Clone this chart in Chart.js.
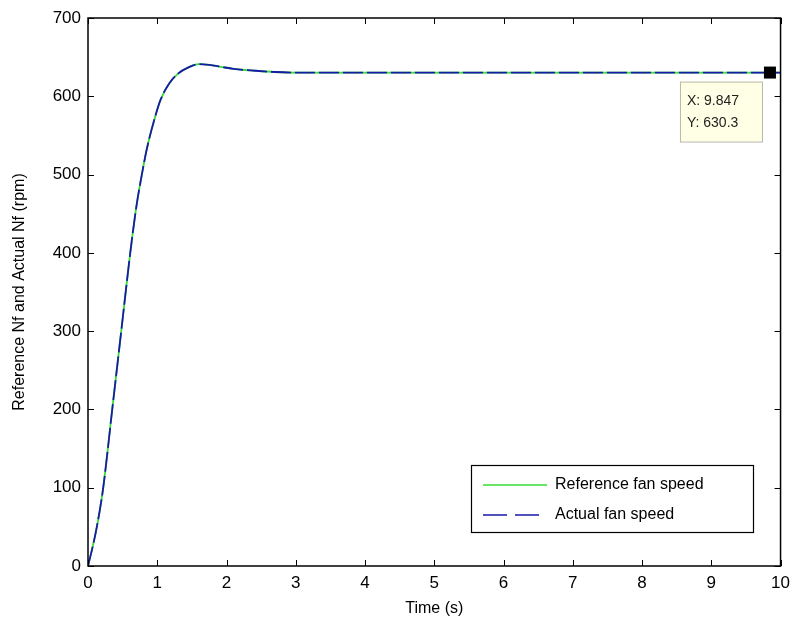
<!DOCTYPE html>
<html>
<head>
<meta charset="utf-8">
<script src="https://cdn.jsdelivr.net/npm/chart.js@4.4.0/dist/chart.umd.min.js"></script>
<style>
  html, body { margin: 0; padding: 0; background: #fff; }
  #wrap { width: 797px; height: 629px; }
</style>
</head>
<body>
<div id="wrap"><canvas id="mycanvas" width="797" height="629"></canvas></div>
<script>
// values
var timeS = [0, 0.05, 0.11, 0.17, 0.22, 0.35, 0.48, 0.61, 0.7, 0.79, 0.85, 0.97, 1.05, 1.17, 1.3, 1.45, 1.6, 1.75, 1.9, 2.1, 2.42, 2.7, 3, 3.5, 4, 5, 6, 7, 8, 9, 9.847, 10];
var refSpeed = [0, 18, 42, 71, 100, 200, 300, 400, 460, 506, 533, 574, 596, 616, 629, 637, 641, 640, 638, 635, 632.6, 631, 630.3, 630.3, 630.3, 630.3, 630.3, 630.3, 630.3, 630.3, 630.3, 630.3];
var actSpeed = [0, 18, 42, 71, 100, 200, 300, 400, 460, 506, 533, 574, 596, 616, 629, 637, 641, 640, 638, 635, 632.6, 631, 630.3, 630.3, 630.3, 630.3, 630.3, 630.3, 630.3, 630.3, 630.3, 630.3];
var xTicks = [0, 1, 2, 3, 4, 5, 6, 7, 8, 9, 10];
var yTicks = [0, 100, 200, 300, 400, 500, 600, 700];
var seriesNames = ["Reference fan speed", "Actual fan speed"];
var tipX = 9.847;
var tipY = 630.3;

var FONT = "'Liberation Sans', Arial, sans-serif";

function toPoints(xs, ys) {
    var pts = [];
    for (var i = 0; i < xs.length; i++) pts.push({x: xs[i], y: ys[i]});
    return pts;
}

// box, inward ticks, legend and data tip in MATLAB style
var matlabBits = {
    id: 'matlabBits',
    afterDraw: function(chart) {
        var ctx = chart.ctx;
        var a = chart.chartArea;
        var xs = chart.scales.x, ys = chart.scales.y;
        ctx.save();
        ctx.strokeStyle = '#000';
        ctx.lineWidth = 1;
        ctx.beginPath();
        xTicks.forEach(function(t) {
            var px = Math.round(xs.getPixelForValue(t)) + 0.5;
            ctx.moveTo(px, a.bottom); ctx.lineTo(px, a.bottom - 6);
            ctx.moveTo(px, a.top); ctx.lineTo(px, a.top + 6);
        });
        yTicks.forEach(function(t) {
            var py = Math.round(ys.getPixelForValue(t)) + 0.5;
            ctx.moveTo(a.left, py); ctx.lineTo(a.left + 6, py);
            ctx.moveTo(a.right, py); ctx.lineTo(a.right - 6, py);
        });
        ctx.stroke();
        ctx.lineWidth = 1.5;
        ctx.strokeRect(a.left, a.top, a.right - a.left, a.bottom - a.top);

        // legend
        var lx = 471, ly = 465, lw = 282, lh = 67;
        ctx.fillStyle = '#fff';
        ctx.fillRect(lx, ly, lw, lh);
        ctx.lineWidth = 1.2;
        ctx.strokeStyle = '#000';
        ctx.strokeRect(lx + 0.5, ly + 0.5, lw, lh);
        ctx.lineWidth = 1.5;
        ctx.strokeStyle = '#33dd33';
        ctx.beginPath(); ctx.moveTo(483, 485); ctx.lineTo(547, 485); ctx.stroke();
        ctx.strokeStyle = '#1a1aaa';
        ctx.setLineDash([24, 8]);
        ctx.beginPath(); ctx.moveTo(483, 515); ctx.lineTo(547, 515); ctx.stroke();
        ctx.setLineDash([]);
        ctx.fillStyle = '#000';
        ctx.font = '16px ' + FONT;
        ctx.textBaseline = 'middle';
        ctx.textAlign = 'left';
        ctx.fillText(seriesNames[0], 555, 485);
        ctx.fillText(seriesNames[1], 555, 515);

        // data tip
        var px = xs.getPixelForValue(tipX), py = ys.getPixelForValue(tipY);
        ctx.fillStyle = '#000';
        ctx.fillRect(px - 6, py - 6, 12, 12);
        var bx = px - 90, by = py + 9;
        ctx.fillStyle = '#ffffe6';
        ctx.fillRect(bx, by, 82, 60);
        ctx.strokeStyle = '#b8b8a8';
        ctx.lineWidth = 1;
        ctx.strokeRect(bx + 0.5, by + 0.5, 82, 60);
        ctx.fillStyle = '#222';
        ctx.font = '14px ' + FONT;
        ctx.fillText('X: ' + tipX, bx + 7, by + 20);
        ctx.fillText('Y: ' + tipY, bx + 7, by + 42);
        ctx.restore();
    }
};

var ctx = document.getElementById('mycanvas');
var chart = new Chart(ctx, {
    type: 'line',
    data: {
        datasets: [
            {
                label: seriesNames[0],
                data: toPoints(timeS, refSpeed),
                borderColor: '#33dd33',
                borderWidth: 1.8,
                pointRadius: 0,
                cubicInterpolationMode: 'monotone',
                fill: false,
                order: 2
            },
            {
                label: seriesNames[1],
                data: toPoints(timeS, actSpeed),
                borderColor: '#1a1aaa',
                borderWidth: 1.8,
                borderDash: [20, 4],
                pointRadius: 0,
                cubicInterpolationMode: 'monotone',
                fill: false,
                order: 1
            }
        ]
    },
    options: {
        responsive: false,
        animation: false,
        layout: { padding: { top: 18, right: 15, left: 0, bottom: 0 } },
        plugins: {
            legend: { display: false },
            tooltip: { enabled: false }
        },
        scales: {
            x: {
                type: 'linear',
                min: 0, max: 10,
                afterBuildTicks: function(s) { s.ticks = xTicks.map(function(v) { return {value: v}; }); },
                afterFit: function(s) { s.height = 63; },
                grid: { display: false, drawTicks: false },
                border: { display: false },
                ticks: { color: '#000', font: { family: FONT, size: 17 }, padding: 7 },
                title: { display: true, text: 'Time (s)', color: '#000', font: { family: FONT, size: 16 }, padding: { top: 0, bottom: 11 } }
            },
            y: {
                min: 0, max: 700,
                afterBuildTicks: function(s) { s.ticks = yTicks.map(function(v) { return {value: v}; }); },
                afterFit: function(s) { s.width = 88; },
                grid: { display: false, drawTicks: false },
                border: { display: false },
                ticks: { color: '#000', font: { family: FONT, size: 17 }, padding: 7 },
                title: { display: true, text: 'Reference Nf and Actual Nf (rpm)', color: '#000', font: { family: FONT, size: 16 }, padding: { top: 10, bottom: 0 } }
            }
        }
    },
    plugins: [matlabBits]
});
</script>
</body>
</html>
